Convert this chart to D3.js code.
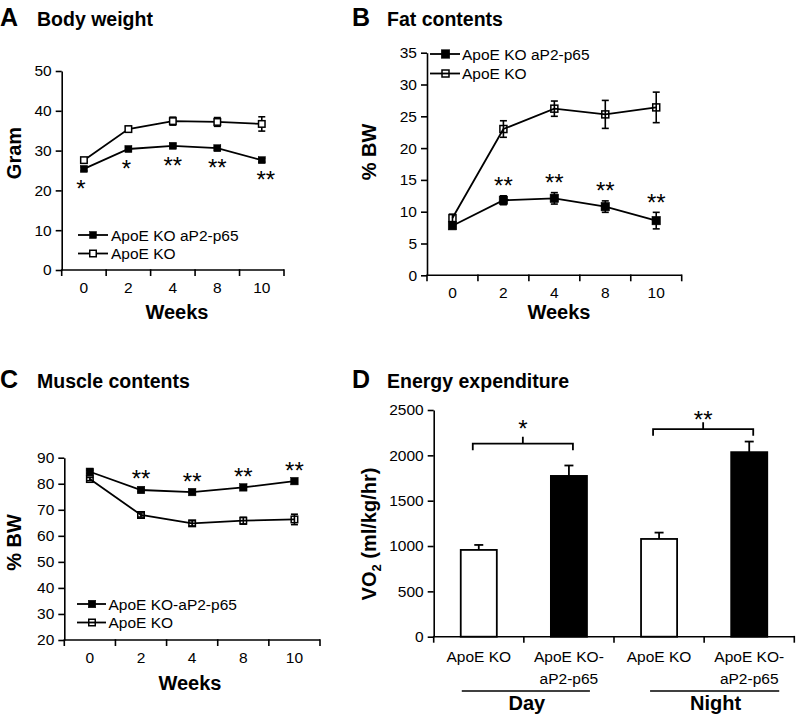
<!DOCTYPE html>
<html>
<head>
<meta charset="utf-8">
<script src="https://cdn.jsdelivr.net/npm/d3@7/dist/d3.min.js"></script>
<style>
  html, body { margin: 0; padding: 0; background: #fff; }
  svg { display: block; }
  text { font-family: "Liberation Sans", Arial, sans-serif; fill: #000; }
</style>
</head>
<body>
<svg id="chart" width="796" height="717"></svg>
<script>
// ---------- DATA ----------
const weeks = ["0", "2", "4", "8", "10"];

// A: Body weight (gram)
const bwTg     = [25.4, 30.4, 31.2, 30.6, 27.6];
const bwTgErr  = [0.5, 0.5, 0.5, 0.5, 0.5];
const bwKo     = [27.6, 35.4, 37.4, 37.2, 36.7];
const bwKoErr  = [0.4, 0.7, 1.0, 1.1, 1.8];
const bwStars  = ["*", "*", "**", "**", "**"];
const bwTicks  = [0, 10, 20, 30, 40, 50];

// B: Fat contents (% BW)
const fatTg    = [7.8, 11.8, 12.1, 10.8, 8.6];
const fatTgErr = [0.4, 0.7, 0.9, 0.9, 1.3];
const fatKo    = [9.0, 23.0, 26.2, 25.3, 26.4];
const fatKoErr = [0.6, 1.3, 1.2, 2.2, 2.4];
const fatStars = ["", "**", "**", "**", "**"];
const fatTicks = [0, 5, 10, 15, 20, 25, 30, 35];

// C: Muscle contents (% BW)
const musTg    = [84.6, 77.6, 76.8, 78.6, 81.0];
const musTgErr = [0.6, 0.6, 0.6, 0.6, 0.6];
const musKo    = [81.8, 68.0, 64.8, 65.8, 66.3];
const musKoErr = [0.6, 0.8, 1.0, 1.3, 2.0];
const musStars = ["", "**", "**", "**", "**"];
const musTicks = [20, 30, 40, 50, 60, 70, 80, 90];

// D: Energy expenditure (VO2 ml/kg/hr)
const eeIds      = ["dayKO", "dayTG", "nightKO", "nightTG"];
const eeGenotype = ["ko", "tg", "ko", "tg"];
const eeLabels   = [["ApoE KO"], ["ApoE KO-", "aP2-p65"], ["ApoE KO"], ["ApoE KO-", "aP2-p65"]];
const eeValues   = [957, 1773, 1078, 2035];
const eeErr      = [55, 115, 70, 117];
const eeTicks    = [0, 500, 1000, 1500, 2000, 2500];
const eeGroups   = ["Day", "Night"];
const eeBrackets = [{ a: 0, b: 1, level: 2130, star: "*",  starLevel: 2342 },
                    { a: 2, b: 3, level: 2290, star: "**", starLevel: 2450 }];

// ---------- DRAW ----------
const svg = d3.select("#chart");
const FONT_TICK = 15.5;

function title(x1, x2, y, letter, txt) {
  svg.append("text").attr("x", x1).attr("y", y).attr("font-size", 25).attr("font-weight", "bold").text(letter);
  svg.append("text").attr("x", x2).attr("y", y).attr("font-size", 19.5).attr("font-weight", "bold").text(txt);
}

function yLabel(x, y, parts) {
  const t = svg.append("text").attr("transform", `translate(${x},${y}) rotate(-90)`)
    .attr("text-anchor", "middle").attr("font-size", 20).attr("font-weight", "bold");
  parts.forEach(p => {
    const ts = t.append("tspan").text(p.t);
    if (p.sub) ts.attr("font-size", 13).attr("dy", 5);
    if (p.back) ts.attr("dy", -5);
  });
}

function yAxis(y, x0, ticks) {
  const g = svg.append("g").attr("transform", `translate(${x0},0)`)
    .call(d3.axisLeft(y).tickValues(ticks).tickFormat(d3.format("d")).tickSize(6).tickSizeOuter(0).tickPadding(4));
  g.select(".domain").attr("stroke", "#000").attr("stroke-width", 1.6);
  g.selectAll(".tick line").attr("stroke", "#000").attr("stroke-width", 1.6);
  g.selectAll(".tick text").attr("font-size", FONT_TICK).attr("fill", "#000");
  return g;
}

function xBandAxis(x, yPix, labels, labelY) {
  const [r0, r1] = x.range();
  svg.append("line").attr("x1", r0).attr("x2", r1).attr("y1", yPix).attr("y2", yPix)
    .attr("stroke", "#000").attr("stroke-width", 1.6);
  const n = x.domain().length;
  for (let i = 0; i <= n; i++) {
    const xp = r0 + i * x.step();
    svg.append("line").attr("x1", xp).attr("x2", xp).attr("y1", yPix - 0.8).attr("y2", yPix + 6)
      .attr("stroke", "#000").attr("stroke-width", 1.6);
  }
  if (labels) {
    x.domain().forEach(d => {
      svg.append("text").attr("x", x(d) + x.bandwidth() / 2).attr("y", labelY)
        .attr("text-anchor", "middle").attr("font-size", FONT_TICK).text(d);
    });
  }
}

function linePanel(cfg) {
  const x = d3.scaleBand().domain(weeks).range(cfg.xr);
  const y = d3.scaleLinear().domain(cfg.yd).range(cfg.yr);
  const cx = d => x(d) + x.bandwidth() / 2;

  yAxis(y, cfg.xr[0], cfg.ticks);
  xBandAxis(x, cfg.yr[0], true, cfg.yr[0] + 23);

  const line = d3.line().x((d, i) => cx(weeks[i])).y(d => y(d));
  const series = [
    { v: cfg.tg, e: cfg.tgErr, filled: true, size: cfg.sizeTg },
    { v: cfg.ko, e: cfg.koErr, filled: false, size: cfg.sizeKo }
  ];
  series.forEach(s => {
    svg.append("path").attr("d", line(s.v)).attr("fill", "none").attr("stroke", "#000").attr("stroke-width", 1.8);
  });
  series.forEach(s => {
    s.v.forEach((v, i) => {
      const xp = cx(weeks[i]);
      const y1 = y(v + s.e[i]), y2 = y(v - s.e[i]);
      svg.append("line").attr("x1", xp).attr("x2", xp).attr("y1", y1).attr("y2", y2).attr("stroke", "#000").attr("stroke-width", 1.6);
      [y1, y2].forEach(yy => svg.append("line").attr("x1", xp - 3.5).attr("x2", xp + 3.5).attr("y1", yy).attr("y2", yy).attr("stroke", "#000").attr("stroke-width", 1.6));
    });
  });
  series.forEach(s => {
    s.v.forEach((v, i) => {
      const xp = cx(weeks[i]);
      svg.append("rect").attr("x", xp - s.size / 2).attr("y", y(v) - s.size / 2)
        .attr("width", s.size).attr("height", s.size)
        .attr("fill", s.filled ? "#000" : cfg.openFill)
        .attr("stroke", "#000").attr("stroke-width", s.filled ? 0.5 : 1.5);
    });
  });
  // stars
  cfg.stars.forEach((s, i) => {
    if (!s) return;
    let cy;
    if (cfg.starMode === "below") cy = y(cfg.tg[i]) + cfg.starOff;
    else cy = y(cfg.tg[i] + cfg.tgErr[i]) - cfg.starOff;
    svg.append("text").attr("x", cx(weeks[i]) + (cfg.starDx ? cfg.starDx[i] : 0)).attr("y", cy + 13)
      .attr("text-anchor", "middle").attr("font-size", 24).text(s);
  });
  // legend
  const lg = cfg.legend;
  [{ filled: true, name: lg.names[0], y: lg.y[0], size: cfg.sizeTg },
   { filled: false, name: lg.names[1], y: lg.y[1], size: cfg.sizeKo }].forEach(r => {
    svg.append("line").attr("x1", lg.x0).attr("x2", lg.x1).attr("y1", r.y).attr("y2", r.y).attr("stroke", "#000").attr("stroke-width", 1.8);
    svg.append("rect").attr("x", lg.xm - r.size / 2).attr("y", r.y - r.size / 2).attr("width", r.size).attr("height", r.size)
      .attr("fill", r.filled ? "#000" : cfg.openFill).attr("stroke", "#000").attr("stroke-width", r.filled ? 0.5 : 1.5);
    svg.append("text").attr("x", lg.xt).attr("y", r.y + 5.5).attr("font-size", 15.5).text(r.name);
  });
  // x title
  svg.append("text").attr("x", cfg.xtX).attr("y", cfg.xtY).attr("text-anchor", "middle")
    .attr("font-size", 20).attr("font-weight", "bold").text("Weeks");
}

// Panel A
title(0, 37, 26, "A", "Body weight");
yLabel(21, 153, [{ t: "Gram" }]);
linePanel({
  xr: [61.7, 284], yd: [0, 50], yr: [270, 71], ticks: bwTicks,
  tg: bwTg, tgErr: bwTgErr, ko: bwKo, koErr: bwKoErr, stars: bwStars,
  starMode: "below", starOff: 15, starDx: [-3, -2, 0, 0, 4],
  sizeTg: 7, sizeKo: 6.5, openFill: "#fff",
  legend: { x0: 78, x1: 108, xm: 93, xt: 111, y: [235, 253.5], names: ["ApoE KO aP2-p65", "ApoE KO"] },
  xtX: 177, xtY: 319
});

// Panel B
title(352, 387, 26, "B", "Fat contents");
yLabel(376, 152, [{ t: "% BW" }]);
linePanel({
  xr: [427, 681.7], yd: [0, 35], yr: [275.3, 52.7], ticks: fatTicks,
  tg: fatTg, tgErr: fatTgErr, ko: fatKo, koErr: fatKoErr, stars: fatStars,
  starMode: "above", starOff: 14.5,
  sizeTg: 8.5, sizeKo: 7, openFill: "none",
  legend: { x0: 430, x1: 460, xm: 445.5, xt: 462, y: [54, 73.5], names: ["ApoE KO aP2-p65", "ApoE KO"] },
  xtX: 559, xtY: 319
});

// Panel C
title(0, 37, 387.5, "C", "Muscle contents");
yLabel(21, 542.5, [{ t: "% BW" }]);
linePanel({
  xr: [64.3, 320], yd: [20, 90], yr: [640, 457.7], ticks: musTicks,
  tg: musTg, tgErr: musTgErr, ko: musKo, koErr: musKoErr, stars: musStars,
  starMode: "above", starOff: 14,
  sizeTg: 7.5, sizeKo: 6.5, openFill: "none",
  legend: { x0: 77, x1: 106, xm: 92, xt: 108.5, y: [604, 622.5], names: ["ApoE KO-aP2-p65", "ApoE KO"] },
  xtX: 190, xtY: 689.5
});

// Panel D
title(352, 387, 387.5, "D", "Energy expenditure");
yLabel(376, 534, [{ t: "VO" }, { t: "2", sub: true }, { t: " (ml/kg/hr)", back: true }]);
(function () {
  const x = d3.scaleBand().domain(eeIds).range([433.7, 794.3]);
  const y = d3.scaleLinear().domain([0, 2500]).range([636.7, 410]);
  const cx = i => x(eeIds[i]) + x.bandwidth() / 2;
  const bw = x.bandwidth() * 0.4;
  yAxis(y, 433.7, eeTicks);
  // bars
  eeValues.forEach((v, i) => {
    const xp = cx(i);
    svg.append("line").attr("x1", xp).attr("x2", xp).attr("y1", y(v)).attr("y2", y(v + eeErr[i])).attr("stroke", "#000").attr("stroke-width", 1.8);
    svg.append("line").attr("x1", xp - 4.5).attr("x2", xp + 4.5).attr("y1", y(v + eeErr[i])).attr("y2", y(v + eeErr[i])).attr("stroke", "#000").attr("stroke-width", 1.8);
    svg.append("rect").attr("x", xp - bw / 2).attr("y", y(v)).attr("width", bw).attr("height", y(0) - y(v))
      .attr("fill", eeGenotype[i] === "tg" ? "#000" : "#fff").attr("stroke", "#000").attr("stroke-width", 1.8);
  });
  xBandAxis(x, 636.7, false);
  // labels
  eeLabels.forEach((lines, i) => {
    lines.forEach((l, j) => {
      svg.append("text").attr("x", cx(i)).attr("y", 661.5 + j * 22).attr("text-anchor", "middle").attr("font-size", FONT_TICK).text(l);
    });
  });
  // group underlines + names
  const under = [[cx(0) - 17, cx(1) + 21], [cx(2) - 9, cx(3) + 30]];
  eeGroups.forEach((g, k) => {
    const [a, b] = under[k];
    svg.append("line").attr("x1", a).attr("x2", b).attr("y1", 691).attr("y2", 691).attr("stroke", "#000").attr("stroke-width", 1.6);
    svg.append("text").attr("x", (a + b) / 2 + 1).attr("y", 710).attr("text-anchor", "middle")
      .attr("font-size", 20).attr("font-weight", "bold").text(g);
  });
  // brackets
  eeBrackets.forEach(br => {
    const xa = cx(br.a) - 6, xb = cx(br.b) + 4, yl = y(br.level), xm = (xa + xb) / 2;
    svg.append("path").attr("d", `M${xa},${yl + 6.7}V${yl}H${xb}V${yl + 6.7}M${xm},${yl}V${yl - 6.7}`)
      .attr("fill", "none").attr("stroke", "#000").attr("stroke-width", 1.8);
    svg.append("text").attr("x", xm).attr("y", y(br.starLevel) + 13).attr("text-anchor", "middle").attr("font-size", 24).text(br.star);
  });
})();
</script>
</body>
</html>
